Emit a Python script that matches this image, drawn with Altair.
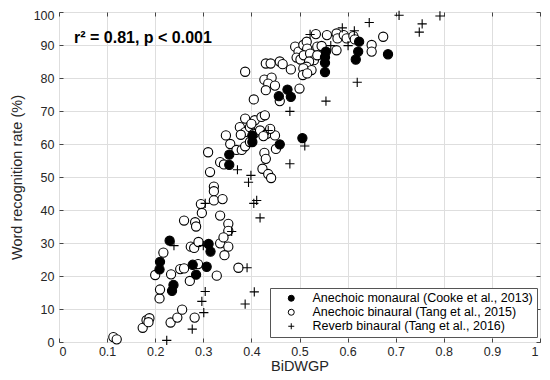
import altair as alt
import pandas as pd

# ---- data ----
mono_x = [0.209, 0.210, 0.230, 0.235, 0.238, 0.278, 0.285, 0.307, 0.311, 0.315,
          0.354, 0.354, 0.402, 0.402, 0.459, 0.506, 0.457, 0.475, 0.482,
          0.553, 0.553, 0.553, 0.555, 0.617, 0.622, 0.624, 0.684]
mono_y = [22.0, 24.3, 30.7, 15.5, 17.3, 23.4, 20.4, 22.8, 29.7, 27.4,
          53.7, 56.8, 62.6, 60.6, 59.9, 61.8, 74.5, 76.5, 74.3,
          81.8, 84.6, 86.3, 88.0, 85.6, 88.0, 91.0, 87.2]

bin_x = [0.113, 0.120, 0.174, 0.182, 0.188, 0.186, 0.232, 0.246, 0.256, 0.282,
         0.209, 0.210, 0.200, 0.233, 0.252, 0.260, 0.272, 0.289, 0.328,
         0.217, 0.274, 0.281, 0.290, 0.335, 0.352, 0.344, 0.373,
         0.260, 0.283, 0.285, 0.295, 0.297, 0.322, 0.322, 0.322, 0.340,
         0.335, 0.352, 0.352, 0.342, 0.314, 0.310, 0.335, 0.343, 0.356, 0.347,
         0.369, 0.380, 0.387, 0.397, 0.427, 0.430, 0.423, 0.435, 0.441, 0.451,
         0.376, 0.387, 0.397, 0.405, 0.418, 0.432, 0.449, 0.378, 0.439, 0.425,
         0.387, 0.407, 0.421, 0.428, 0.400,
         0.387, 0.405, 0.430, 0.440, 0.459, 0.465, 0.482,
         0.427, 0.442, 0.435, 0.430, 0.449, 0.459, 0.500,
         0.491, 0.498, 0.508, 0.515, 0.516, 0.494, 0.502, 0.509, 0.522, 0.530,
         0.537, 0.537, 0.546, 0.520, 0.515, 0.525, 0.508, 0.507, 0.516,
         0.534, 0.557, 0.577, 0.579, 0.592, 0.598, 0.612, 0.615,
         0.577, 0.650, 0.650, 0.674]
bin_y = [1.5, 0.8, 4.3, 6.6, 7.2, 6.0, 5.9, 7.4, 9.8, 7.4,
         13.2, 15.9, 20.3, 20.5, 22.1, 22.3, 18.5, 23.6, 20.1,
         27.1, 28.9, 28.5, 30.3, 29.9, 28.9, 26.3, 22.5,
         36.8, 36.3, 35.0, 41.8, 39.1, 47.1, 45.7, 42.9, 43.3,
         38.3, 35.8, 33.7, 31.7, 51.5, 57.5, 54.5, 53.8, 60.0, 62.6,
         58.2, 58.2, 59.3, 60.6, 57.3, 55.5, 52.5, 50.9, 49.7, 58.5,
         65.1, 63.6, 65.1, 63.1, 64.1, 63.1, 62.6, 62.8, 64.6, 62.4,
         67.7, 67.2, 68.2, 68.7, 66.1,
         81.9, 73.5, 84.4, 84.4, 85.0, 84.2, 82.6,
         79.5, 80.1, 78.3, 76.3, 77.7, 73.0, 76.8,
         89.5, 88.0, 90.0, 91.0, 88.9, 86.2, 85.6, 86.9, 87.4, 85.4,
         89.5, 86.9, 89.7, 85.0, 83.4, 82.4, 82.9, 80.9, 81.4,
         93.3, 93.0, 93.5, 92.0, 93.0, 92.0, 92.7, 91.7,
         88.4, 90.0, 88.0, 92.5]

rev_x = [0.224, 0.277, 0.301, 0.297, 0.304, 0.239, 0.300, 0.359, 0.391, 0.387,
         0.406, 0.304, 0.371, 0.399, 0.394, 0.411, 0.405, 0.418, 0.480, 0.511,
         0.435, 0.480, 0.555, 0.522, 0.589, 0.614, 0.565, 0.601, 0.620, 0.645,
         0.707, 0.755, 0.749, 0.792]
rev_y = [0.5, 3.9, 8.9, 12.3, 15.3, 29.2, 29.2, 33.5, 22.5, 11.5,
         15.2, 42.0, 52.2, 50.5, 48.4, 42.9, 42.0, 37.6, 54.0, 59.4,
         64.1, 69.9, 73.0, 93.2, 95.2, 94.3, 89.8, 89.8, 78.7, 96.8,
         99.0, 96.4, 93.9, 98.8]

series_names = ["Anechoic monaural (Cooke et al., 2013)",
                "Anechoic binaural (Tang et al., 2015)",
                "Reverb binaural (Tang et al., 2016)"]
x_ticks = [0, 0.1, 0.2, 0.3, 0.4, 0.5, 0.6, 0.7, 0.8, 0.9, 1]
y_ticks = [0, 10, 20, 30, 40, 50, 60, 70, 80, 90, 100]
annotation = "r² = 0.81, p < 0.001"
x_title = "BiDWGP"
y_title = "Word recognition rate (%)"

# draw order: open circles, pluses, filled circles on top
df = pd.concat([
    pd.DataFrame({"x": bin_x, "y": bin_y, "series": series_names[1]}),
    pd.DataFrame({"x": rev_x, "y": rev_y, "series": series_names[2]}),
    pd.DataFrame({"x": mono_x, "y": mono_y, "series": series_names[0]}),
], ignore_index=True)

FONT = "Liberation Sans"
xs = alt.Scale(domain=[0, 1], nice=False, zero=False)
ys = alt.Scale(domain=[0, 100], nice=False, zero=False)
PLUS = "M-1,0L1,0M0,-1L0,1"

leg = alt.Legend(orient="none", legendX=211, legendY=276, title=None,
                 padding=4, strokeColor="#555555", fillColor="white",
                 symbolSize=36, labelFontSize=12.5, labelFont=FONT,
                 labelColor="black", labelLimit=0, rowPadding=1,
                 symbolOffset=11, labelOffset=15, symbolStrokeWidth=1)

base = alt.Chart(df)

points = base.mark_point(filled=True, size=85, strokeWidth=1.1, opacity=1).encode(
    x=alt.X("x:Q", scale=xs, axis=alt.Axis(
        orient="bottom", offset=-4, tickSize=4, ticks=True, labels=True,
        labelPadding=3, values=x_ticks, format="~g", grid=True, domain=False,
        labelOffset={"condition": {"test": "datum.value == 1", "value": -2},
                     "value": 0},
        title=x_title, titlePadding=2)),
    y=alt.Y("y:Q", scale=ys, axis=alt.Axis(
        orient="left", offset=-4, tickSize=4, ticks=True, labels=True,
        labelPadding=5, values=y_ticks, grid=True, domain=False,
        labelOffset={"condition": {"test": "datum.value == 100", "value": 3},
                     "value": 0},
        title=y_title, titlePadding=9)),
    shape=alt.Shape("series:N", scale=alt.Scale(domain=series_names,
                    range=["circle", "circle", PLUS]), legend=leg),
    fill=alt.Fill("series:N", scale=alt.Scale(domain=series_names,
                  range=["black", "white", "transparent"]), legend=leg),
    stroke=alt.Stroke("series:N", scale=alt.Scale(domain=series_names,
                      range=["black", "black", "black"]), legend=leg),
)

ticks_tr = base.mark_point(opacity=0).encode(
    x=alt.X("x:Q", scale=xs, axis=alt.Axis(
        orient="top", offset=-4, tickSize=4, ticks=True, labels=False,
        values=x_ticks, grid=False, domain=False, title=None)),
    y=alt.Y("y:Q", scale=ys, axis=alt.Axis(
        orient="right", offset=-4, tickSize=4, ticks=True, labels=False,
        values=y_ticks, grid=False, domain=False, title=None)),
)

text = alt.Chart(pd.DataFrame({"t": [annotation]})).mark_text(
    align="left", baseline="middle", fontSize=16, fontWeight="bold",
    font=FONT, color="black").encode(
    x=alt.value(15), y=alt.value(26), text="t:N")

chart = alt.layer(ticks_tr, points, text).resolve_axis(
    x="independent", y="independent"
).properties(
    width=481, height=330,
    autosize=alt.AutoSizeParams(type="none"),
    padding={"left": 51, "top": 4, "right": 2, "bottom": 34},
).configure_view(
    stroke="#555555", strokeWidth=1
).configure_axis(
    labelFont=FONT, labelFontSize=12.5, labelColor="#262626",
    titleFont=FONT, titleFontSize=14.5, titleFontWeight="normal",
    titleColor="#262626", gridColor="#dedede", gridWidth=1,
    tickColor="#444444", tickWidth=1
)

chart.save("out.html", embed_options={"renderer": "svg", "actions": False})
